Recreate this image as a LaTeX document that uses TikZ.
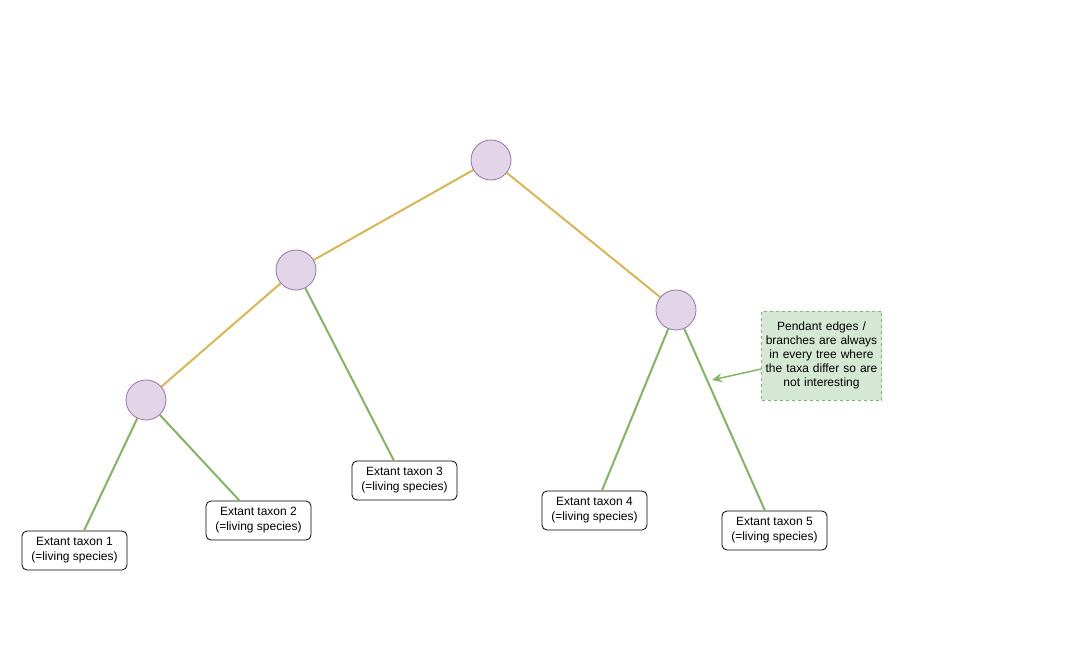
\documentclass[tikz,border=0pt]{standalone}
\usepackage{fontspec}
\setmainfont{Liberation Sans}
\usetikzlibrary{arrows.meta, positioning, calc}
\definecolor{NodePurple}{HTML}{E1D5E7}
\definecolor{NodePurpleLine}{HTML}{9673A6}
\definecolor{EdgeGold}{HTML}{D6B656}
\definecolor{EdgeGreen}{HTML}{82B366}
\definecolor{NoteGreen}{HTML}{D5E8D4}
\tikzset{
    inner/.style={
        circle,
        draw=NodePurpleLine,
        fill=NodePurple,
        line width=0.8pt,
        minimum size=40pt,
        inner sep=0pt
    },
    taxon/.style={
        draw=black,
        fill=white,
        rounded corners=5pt,
        line width=0.8pt,
        minimum width=105pt,
        minimum height=39pt,
        font=\fontsize{12}{15}\selectfont,
        align=center
    },
    note/.style={
        draw=EdgeGreen,
        fill=NoteGreen,
        dashed,
        line width=0.6pt,
        minimum width=119pt,
        minimum height=89pt,
        text width=119pt,
        font=\fontsize{12}{14}\selectfont,
        align=center,
        inner sep=0.5pt
    },
    inneredge/.style={
        line width=2pt,
        EdgeGold
    },
    pendant/.style={
        line width=2pt,
        EdgeGreen
    },
    notearrow/.style={
        -{Stealth[length=10pt,width=9pt]},
        line width=1.5pt,
        EdgeGreen
    }
}

\begin{document}
\begin{tikzpicture}[x=1pt, y=-1pt]
        \useasboundingbox (0,0) rectangle (1072,671);

        % Internal nodes
        \node[inner] (root) at (491,160) {};
        \node[inner] (left) at (296,270) {};
        \node[inner] (right) at (676,310) {};
        \node[inner] (lowleft) at (146,400) {};

        % Leaves
        \node[taxon] (t1) at (74.5,550.5) {Extant taxon 1\\(=living species)};
        \node[taxon] (t2) at (258.5,520.5) {Extant taxon 2\\(=living species)};
        \node[taxon] (t3) at (404.5,480.5) {Extant taxon 3\\(=living species)};
        \node[taxon] (t4) at (594.5,510.5) {Extant taxon 4\\(=living species)};
        \node[taxon] (t5) at (774.5,530.5) {Extant taxon 5\\(=living species)};

        % Note
        \node[note] (remark) at (821.5,355.5) {Pendant edges /\\branches are always\\in every tree where\\the taxa differ so are\\not interesting};
        \coordinate (pointer) at (712,380);

        % Inner edges
        \draw[inneredge] (root) -- (left);
        \draw[inneredge] (root) -- (right);
        \draw[inneredge] (left) -- (lowleft);

        % Pendant edges
        \draw[pendant] (lowleft) -- ($(t1.north west)!0.59!(t1.north east)$);
        \draw[pendant] (lowleft) -- ($(t2.north west)!0.32!(t2.north east)$);
        \draw[pendant] (left) -- ($(t3.north west)!0.40!(t3.north east)$);
        \draw[pendant] (right) -- ($(t4.north west)!0.57!(t4.north east)$);
        \draw[pendant] (right) -- ($(t5.north west)!0.41!(t5.north east)$);

        \draw[notearrow] (remark.west |- 0,369) -- (pointer);
    \end{tikzpicture}
\end{document}
